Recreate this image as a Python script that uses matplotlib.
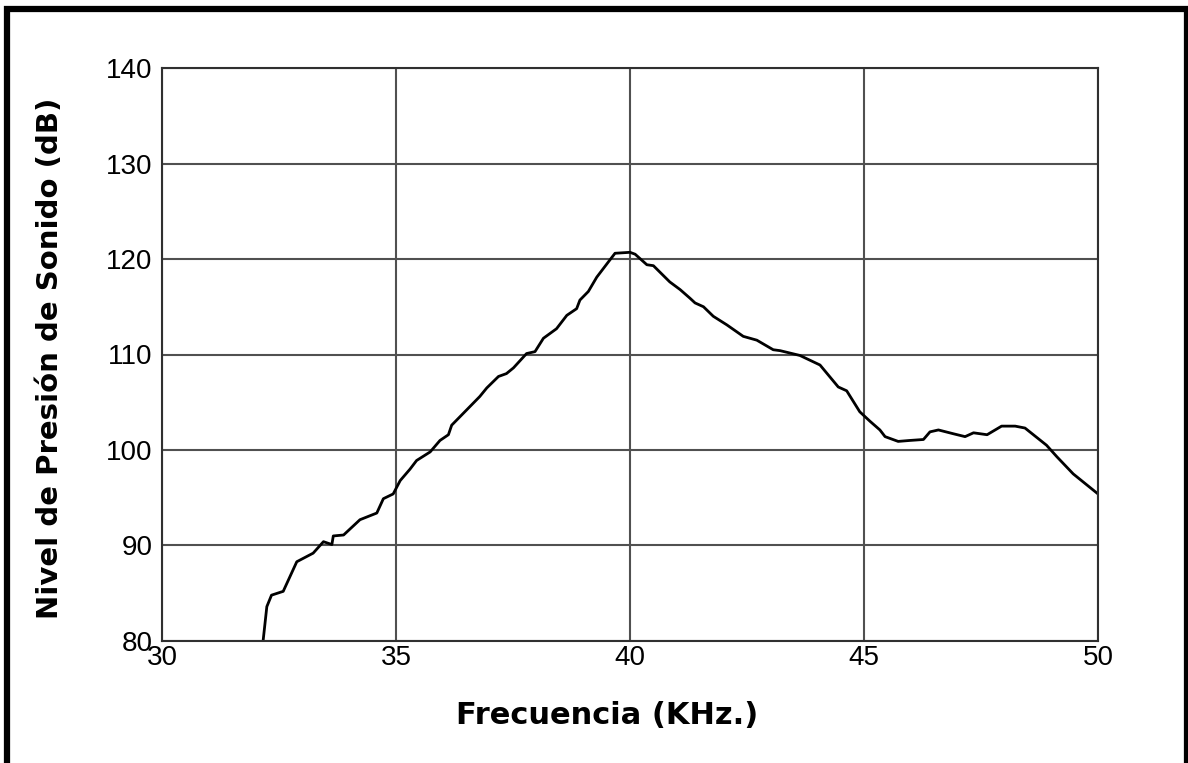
import numpy as np
import matplotlib
matplotlib.use("Agg")
import matplotlib.pyplot as plt
from matplotlib.patches import Rectangle

# curve: frequency (kHz) vs sound pressure level (dB)
freq = [32.16, 32.24, 32.34, 32.59, 32.88, 33.23, 33.45, 33.63, 33.66, 33.88,
        34.23, 34.59, 34.73, 34.94, 35.09, 35.30, 35.44, 35.73, 35.94, 36.12,
        36.19, 36.51, 36.79, 36.94, 37.19, 37.36, 37.51, 37.79, 37.97, 38.15,
        38.43, 38.65, 38.86, 38.93, 39.11, 39.29, 39.57, 39.68, 40.00, 40.11,
        40.36, 40.50, 40.85, 41.07, 41.28, 41.39, 41.57, 41.78, 42.07, 42.42,
        42.71, 43.06, 43.21, 43.63, 44.06, 44.45, 44.63, 44.91, 45.13, 45.34,
        45.45, 45.73, 45.98, 46.27, 46.41, 46.59, 46.91, 47.16, 47.34, 47.63,
        47.94, 48.23, 48.44, 48.90, 49.12, 49.47, 50.00]
spl = [80.0, 83.6, 84.8, 85.2, 88.3, 89.2, 90.4, 90.1, 91.0, 91.1,
       92.7, 93.4, 94.9, 95.4, 96.8, 98.0, 98.9, 99.8, 101.0, 101.6,
       102.6, 104.2, 105.6, 106.5, 107.7, 108.0, 108.6, 110.1, 110.3, 111.7,
       112.7, 114.1, 114.8, 115.7, 116.6, 118.1, 119.9, 120.6, 120.7, 120.5,
       119.4, 119.3, 117.6, 116.8, 115.9, 115.4, 115.0, 114.0, 113.1, 111.9,
       111.5, 110.5, 110.4, 109.9, 108.9, 106.6, 106.2, 104.0, 103.0, 102.1,
       101.4, 100.9, 101.0, 101.1, 101.9, 102.1, 101.7, 101.4, 101.8, 101.6,
       102.5, 102.5, 102.3, 100.5, 99.3, 97.5, 95.4]

xticks = [30, 35, 40, 45, 50]
yticks = [80, 90, 100, 110, 120, 130, 140]

plt.rcParams['font.family'] = ['Liberation Sans', 'DejaVu Sans']

fig = plt.figure(figsize=(11.88, 7.63), dpi=100)
ax = fig.add_axes([162/1188, 1-641/763, (1098-162)/1188, (641-68)/763])

ax.plot(freq, spl, color='black', lw=2)
ax.set_xlim(30, 50)
ax.set_ylim(80, 140)
ax.set_xticks(xticks)
ax.set_yticks(yticks)
ax.grid(True, color='#505050', lw=1.5)
ax.tick_params(length=0, labelsize=20)
ax.tick_params(axis='y', pad=7)
ax.tick_params(axis='x', pad=3)
for s in ax.spines.values():
    s.set_linewidth(1.5)
    s.set_color('#303030')

fig.text(607/1188, 1-716/763, 'Frecuencia (KHz.)', ha='center', va='center',
         fontsize=22, fontweight='heavy', family=['DejaVu Sans'])
fig.text(50/1188, 1-358/763, 'Nivel de Presión de Sonido (dB)', ha='center', va='center',
         rotation=90, fontsize=21, fontweight='heavy', family=['DejaVu Sans'])

# black frame round the figure (open at the bottom)
fig.add_artist(Rectangle((7/1188, -0.2), 1-(7+1)/1188, 1.2-9/763,
                         transform=fig.transFigure, fill=False, lw=4.5,
                         edgecolor='black'))

fig.savefig('out.png', dpi=100)
